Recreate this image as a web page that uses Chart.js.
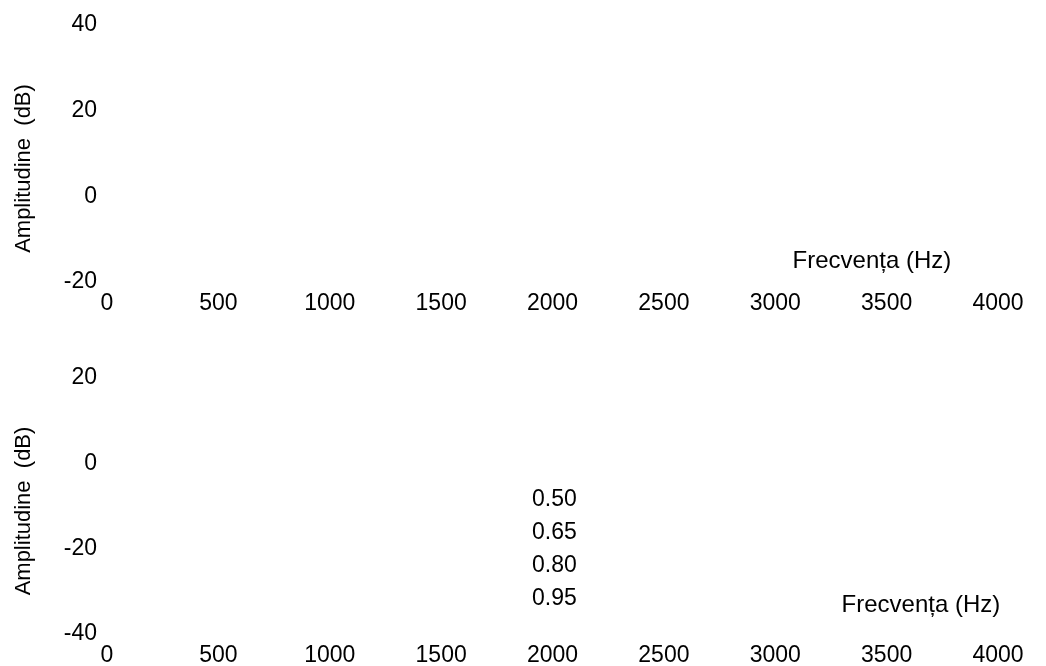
<!DOCTYPE html>
<html>
<head>
<meta charset="utf-8">
<script src="https://cdn.jsdelivr.net/npm/chart.js@4/dist/chart.umd.min.js"></script>
<style>
  html, body { margin: 0; padding: 0; background: #fff; overflow: hidden; }
  canvas { display: block; }
</style>
</head>
<body>
<canvas id="panelTop" width="1046" height="333"></canvas>
<canvas id="panelBottom" width="1046" height="333"></canvas>
<script>
// Frequency axis (Hz) shared by both panels
const freqTicks = [0, 500, 1000, 1500, 2000, 2500, 3000, 3500, 4000];
// Amplitude axis ticks (dB)
const ampTicksTop = [-20, 0, 20, 40];
const ampTicksBottom = [-40, -20, 0, 20];
// Damping factors listed in the lower panel
const dampingFactors = ['0.50', '0.65', '0.80', '0.95'];
// Response curves per damping factor (no samples plotted)
const responseTop = [];
const responseBottom = [[], [], [], []];

const freqTitle = 'Frecvența (Hz)';
const ampTitle = 'Amplitudine  (dB)';

Chart.defaults.font.family = "'Liberation Sans', Arial, Helvetica, sans-serif";
Chart.defaults.color = '#000';

// Draws the in-plot captions, the rotated amplitude title and the damping list
const captions = {
  id: 'captions',
  afterDraw(chart, args, opts) {
    const ctx = chart.ctx;
    const xs = chart.scales.x, ys = chart.scales.y;
    const area = chart.chartArea;
    ctx.save();
    ctx.fillStyle = '#000';
    if (opts.yTitle) {
      const t = opts.yTitle;
      ctx.save();
      ctx.font = t.font;
      ctx.translate(t.x, (area.top + area.bottom) / 2 + t.shift);
      ctx.rotate(-Math.PI / 2);
      ctx.textAlign = 'center';
      ctx.textBaseline = 'middle';
      ctx.fillText(t.text, 0, 0);
      ctx.restore();
    }
    (opts.labels || []).forEach(l => {
      ctx.font = l.font;
      ctx.textAlign = 'center';
      ctx.textBaseline = 'middle';
      ctx.fillText(l.text, xs.getPixelForValue(l.x), ys.getPixelForValue(l.y));
    });
    if (opts.legend) {
      const lg = opts.legend;
      ctx.font = lg.font;
      ctx.textAlign = 'left';
      ctx.textBaseline = 'middle';
      const x0 = xs.getPixelForValue(lg.x);
      const y0 = ys.getPixelForValue(lg.y);
      chart.data.datasets.forEach((ds, i) => {
        ctx.fillText(ds.label, x0, y0 + i * lg.rowGap);
      });
    }
    ctx.restore();
  }
};

const plain = v => String(v);

function makePanel(id, cfg) {
  return new Chart(document.getElementById(id), {
    type: 'line',
    data: { datasets: cfg.datasets },
    options: {
      responsive: false,
      animation: false,
      devicePixelRatio: 1,
      layout: { padding: { left: 0, right: 48, top: cfg.padTop, bottom: 0 } },
      plugins: {
        legend: { display: false },
        tooltip: { enabled: false },
        captions: cfg.captions
      },
      scales: {
        x: {
          type: 'linear',
          min: 0, max: 4000,
          grid: { display: false, drawTicks: false },
          border: { display: false },
          afterBuildTicks: s => { s.ticks = freqTicks.map(v => ({ value: v })); },
          afterFit: s => { s.height = cfg.xHeight; },
          ticks: { font: { size: 23 }, padding: 8, maxRotation: 0, autoSkip: false, color: '#000', callback: plain }
        },
        y: {
          type: 'linear',
          min: cfg.yTicks[0], max: cfg.yTicks[cfg.yTicks.length - 1],
          grid: { display: false, drawTicks: false },
          border: { display: false },
          afterBuildTicks: s => { s.ticks = cfg.yTicks.map(v => ({ value: v })); },
          afterFit: s => { s.width = 107; },
          ticks: { font: { size: 23 }, padding: 10, autoSkip: false, color: '#000', callback: plain }
        }
      }
    },
    plugins: [captions]
  });
}

makePanel('panelTop', {
  padTop: 25,
  xHeight: 51,
  yTicks: ampTicksTop,
  datasets: [{ label: '', data: responseTop, borderColor: '#000', borderWidth: 1.5, pointRadius: 0 }],
  captions: {
    yTitle: { text: ampTitle, font: "22px 'Liberation Sans', Arial, sans-serif", x: 24, shift: 15 },
    labels: [{ text: freqTitle, x: 3434, y: -15.1, font: "24px 'Liberation Sans', Arial, sans-serif" }]
  }
});

makePanel('panelBottom', {
  padTop: 45,
  xHeight: 32,
  yTicks: ampTicksBottom,
  datasets: dampingFactors.map((f, i) => ({
    label: f, data: responseBottom[i], borderColor: '#000', borderWidth: 1.5, pointRadius: 0
  })),
  captions: {
    yTitle: { text: ampTitle, font: "22px 'Liberation Sans', Arial, sans-serif", x: 24, shift: 5 },
    labels: [{ text: freqTitle, x: 3654, y: -33.2, font: "24px 'Liberation Sans', Arial, sans-serif" }],
    legend: { x: 1908, y: -8.4, rowGap: 33.3, font: "23px 'Liberation Sans', Arial, sans-serif" }
  }
});
</script>
</body>
</html>
